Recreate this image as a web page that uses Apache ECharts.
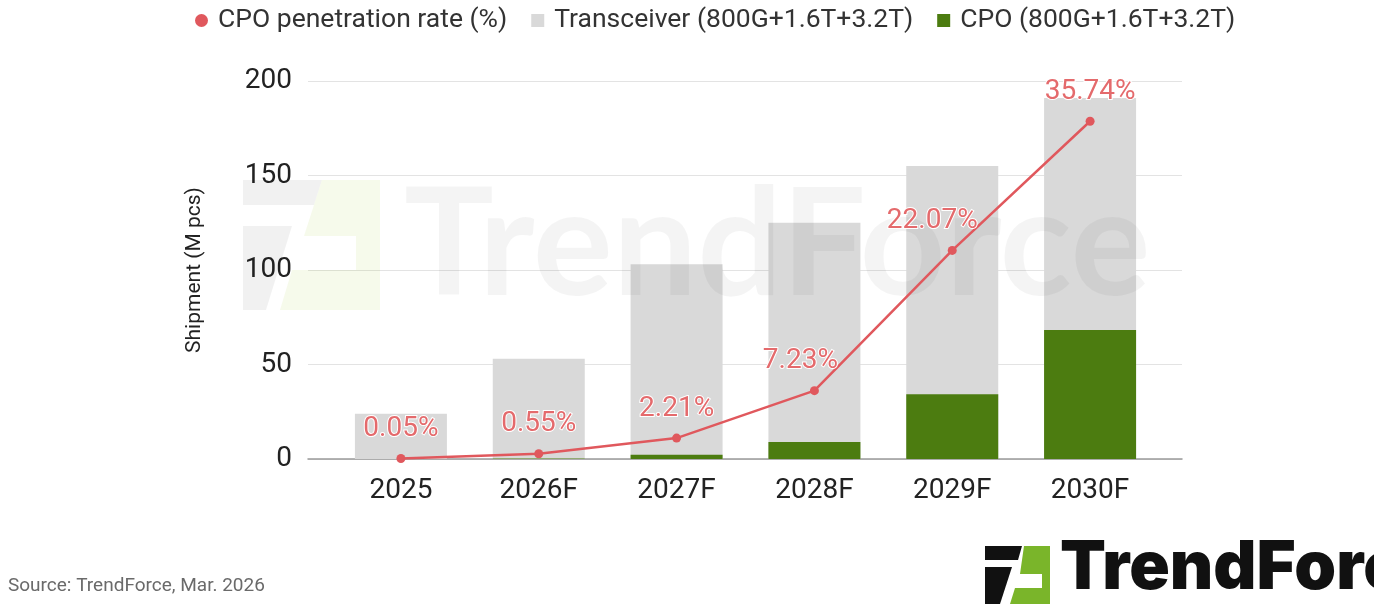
<!DOCTYPE html>
<html>
<head>
<meta charset="utf-8">
<script src="https://cdn.jsdelivr.net/npm/echarts@6/dist/echarts.min.js"></script>
<style>
html,body{margin:0;padding:0;background:#fff;}
#chart{width:1374px;height:606px;}
</style>
</head>
<body>
<div id="chart"></div>
<script>
const categories = ['2025', '2026F', '2027F', '2028F', '2029F', '2030F'];
const transceiver = [24, 53, 103, 125, 155, 191];
const cpo = [0.01, 0.3, 2.3, 9.0, 34.2, 68.3];
const penetration = [0.05, 0.55, 2.21, 7.23, 22.07, 35.74];
const yTicks = [0, 50, 100, 150, 200];

const labelOffsets = [[0, 0], [0, 0], [0, 0], [-14, 0], [-20, 0], [0, 0]];

const chart = echarts.init(document.getElementById('chart'), null, {renderer: 'canvas'});
const FONT = 'Roboto, "Noto Sans", sans-serif';
const RED = '#e0585d';
const RED_LABEL = '#e46a6c';
const GREEN = '#4c7c10';
const GRAY = '#d9d9d9';

chart.setOption({
  animation: false,
  textStyle: {fontFamily: FONT},
  legend: {
    top: 2,
    left: 190,
    itemGap: 24,
    itemWidth: 13,
    itemHeight: 13,
    textStyle: {fontSize: 26.5, color: '#333', fontFamily: FONT, padding: [0, 0, 0, 5]},
    data: [
      {name: 'CPO penetration rate (%)', icon: 'circle'},
      {name: 'Transceiver (800G+1.6T+3.2T)', icon: 'rect'},
      {name: 'CPO (800G+1.6T+3.2T)', icon: 'rect'}
    ]
  },
  grid: [
    {left: 332, right: 215, top: 81, bottom: 147},
    {left: 308, right: 192, top: 81, bottom: 147}
  ],
  xAxis: [
    {
      type: 'category', gridIndex: 0, data: categories,
      axisLine: {show: false}, axisTick: {show: false},
      axisLabel: {fontSize: 28, color: '#222', margin: 18, fontFamily: FONT}
    },
    {
      type: 'value', gridIndex: 1, min: 0, max: 1,
      axisLine: {show: true, lineStyle: {color: '#9a9a9a', width: 1.5}},
      axisTick: {show: false}, axisLabel: {show: false}, splitLine: {show: false}
    }
  ],
  yAxis: [
    {
      type: 'value', gridIndex: 1, min: yTicks[0], max: yTicks[yTicks.length - 1], interval: 50,
      axisLine: {show: false}, axisTick: {show: false},
      axisLabel: {fontSize: 28, color: '#222', margin: 16, fontFamily: FONT},
      splitLine: {lineStyle: {color: '#e3e3e3', width: 1.2}},
      name: 'Shipment (M pcs)', nameLocation: 'middle', nameGap: 103, nameRotate: 90,
      nameTextStyle: {fontSize: 21, color: '#222', fontFamily: FONT}
    },
    {type: 'value', gridIndex: 0, min: 0, max: 200, show: false},
    {type: 'value', gridIndex: 0, min: 0, max: 40, show: false}
  ],
  series: [
    {
      name: 'Transceiver (800G+1.6T+3.2T)', type: 'bar',
      xAxisIndex: 0, yAxisIndex: 1, data: transceiver,
      barWidth: 92, barGap: '-100%', itemStyle: {color: GRAY}, z: 2
    },
    {
      name: 'CPO (800G+1.6T+3.2T)', type: 'bar',
      xAxisIndex: 0, yAxisIndex: 1, data: cpo,
      barWidth: 92, barGap: '-100%', itemStyle: {color: GREEN}, z: 3
    },
    {
      name: 'CPO penetration rate (%)', type: 'line',
      xAxisIndex: 0, yAxisIndex: 2,
      data: penetration.map((v, i) => ({value: v, label: {offset: labelOffsets[i]}})),
      symbol: 'circle', symbolSize: 9,
      lineStyle: {color: RED, width: 2.5}, itemStyle: {color: RED},
      label: {
        show: true, position: 'top', distance: 11,
        formatter: p => p.value + '%',
        fontSize: 28, color: RED_LABEL, fontFamily: FONT,
        textBorderColor: '#fff', textBorderWidth: 2
      },
      z: 10
    }
  ],
  graphic: [
    // watermark logo
    {type: 'polygon', z: 5, silent: true, shape: {points: [[243,180],[322,180],[314,205],[243,205]]}, style: {fill: 'rgba(0,0,0,0.055)'}},
    {type: 'polygon', z: 5, silent: true, shape: {points: [[243,226],[292,226],[266,310],[243,310]]}, style: {fill: 'rgba(0,0,0,0.055)'}},
    {type: 'polygon', z: 5, silent: true, shape: {points: [[322,180],[380,180],[380,310],[280,310],[292,270],[356,270],[356,236],[304,236]]}, style: {fill: 'rgba(170,210,60,0.1)'}},
    {type: 'text', z: 5, silent: true, left: 404, top: 172,
      style: {text: 'TrendForce', font: 'bold 150px Lato, "DejaVu Sans", sans-serif', fill: 'rgba(0,0,0,0.045)'}},
    // source
    {type: 'text', left: 8, top: 577,
      style: {text: 'Source: TrendForce, Mar. 2026', font: '19px Roboto, sans-serif', fill: '#6a6a6a'}},
    // bottom-right logo
    {type: 'polygon', shape: {points: [[985,546],[1022,546],[1018,560],[985,560]]}, style: {fill: '#111'}},
    {type: 'polygon', shape: {points: [[985,567],[1012,567],[1000,604],[985,604]]}, style: {fill: '#111'}},
    {type: 'polygon', shape: {points: [[1024,546],[1050,546],[1050,604],[1010,604],[1015,588],[1042,588],[1042,574],[1020,574]]}, style: {fill: '#7ab52a'}},
    {type: 'text', left: 1060, top: 535,
      style: {text: 'TrendForce', font: '900 67px Inter, Lato, "DejaVu Sans", sans-serif', fill: '#111'}}
  ]
});
</script>
</body>
</html>
